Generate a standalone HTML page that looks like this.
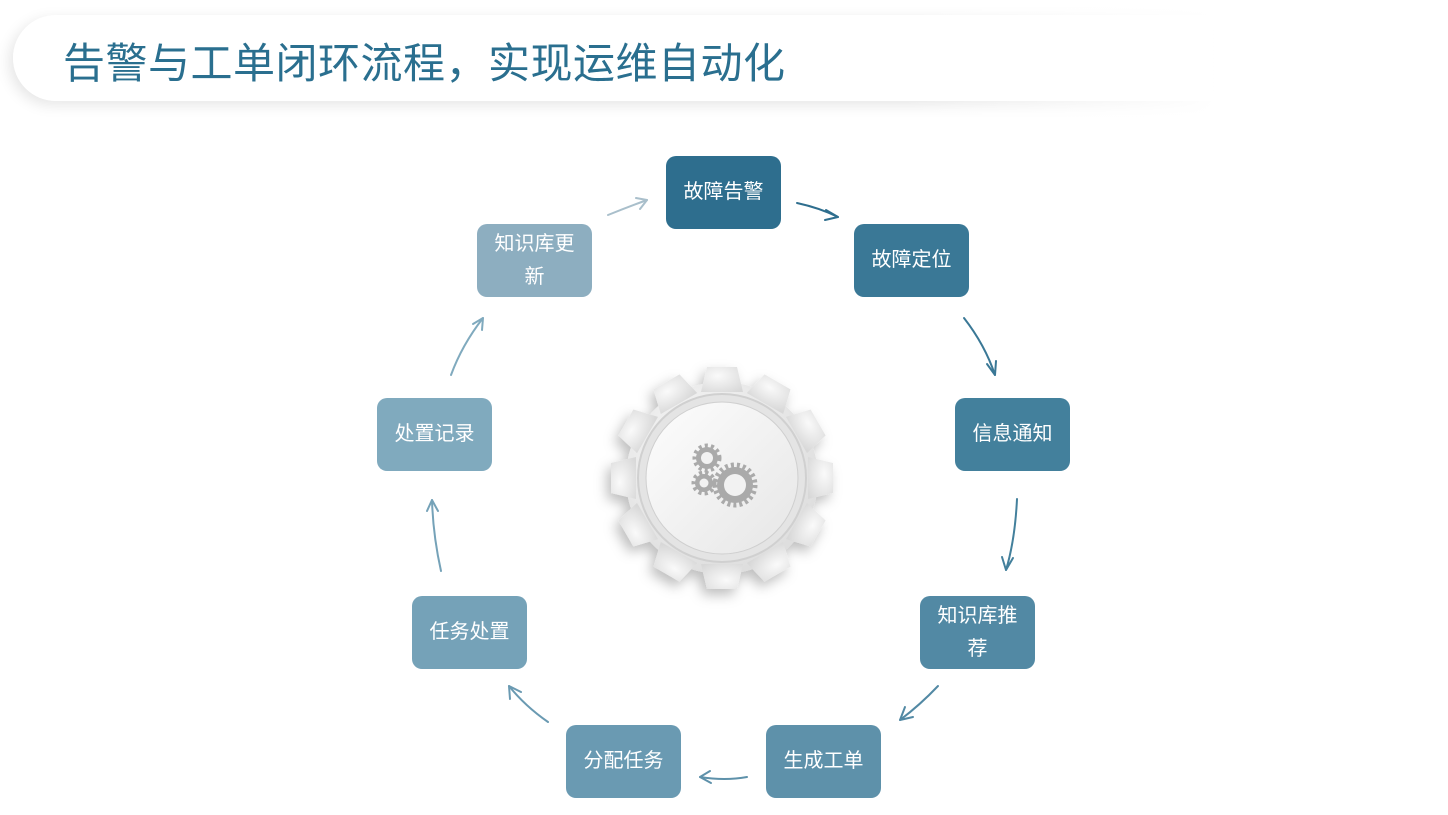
<!DOCTYPE html>
<html><head><meta charset="utf-8"><style>
html,body{margin:0;padding:0;}
body{width:1448px;height:815px;background:#fff;position:relative;overflow:hidden;font-family:"Liberation Sans","Noto Sans CJK SC",sans-serif;}
.bar{position:absolute;left:13px;top:15px;width:1200px;height:86px;border-radius:43px 0 0 43px;background:linear-gradient(90deg,#fff 0%,#fff 60%,rgba(255,255,255,0) 100%);box-shadow:-4px 4px 14px rgba(0,0,0,0.10);}
.fade{position:absolute;left:900px;top:0;width:548px;height:120px;background:linear-gradient(90deg,rgba(255,255,255,0),#fff 60%);}
.title{position:absolute;left:63px;top:30px;font-size:42px;color:#2a6f8f;letter-spacing:0.5px;white-space:nowrap;}
.b{position:absolute;width:115px;height:73px;border-radius:10px;color:#fff;font-size:20px;display:flex;align-items:center;justify-content:center;text-align:center;line-height:33px;}
</style></head><body>
<div class="bar"></div><div class="fade"></div>
<div class="title">告警与工单闭环流程，实现运维自动化</div>

<svg width="1448" height="815" style="position:absolute;left:0;top:0">
<defs>
<radialGradient id="g1" cx="0.4" cy="0.35" r="0.8"><stop offset="0" stop-color="#fafafa"/><stop offset="1" stop-color="#d8d8d8"/></radialGradient>
<linearGradient id="g2" x1="0" y1="0" x2="1" y2="1"><stop offset="0" stop-color="#fdfdfd"/><stop offset="1" stop-color="#e6e6e6"/></linearGradient>
<filter id="sh" x="-30%" y="-30%" width="160%" height="160%"><feDropShadow dx="-4" dy="6" stdDeviation="6" flood-color="#000" flood-opacity="0.25"/></filter>
<path id="tooth" d="M-21,-86 L-15,-111 L15,-111 L21,-86 Z"/>
</defs>
<g transform="translate(722,478)" filter="url(#sh)" fill="url(#g1)">
<circle r="96"/>
<use href="#tooth"/><use href="#tooth" transform="rotate(30)"/><use href="#tooth" transform="rotate(60)"/><use href="#tooth" transform="rotate(90)"/><use href="#tooth" transform="rotate(120)"/><use href="#tooth" transform="rotate(150)"/><use href="#tooth" transform="rotate(180)"/><use href="#tooth" transform="rotate(210)"/><use href="#tooth" transform="rotate(240)"/><use href="#tooth" transform="rotate(270)"/><use href="#tooth" transform="rotate(300)"/><use href="#tooth" transform="rotate(330)"/>
</g>
<g transform="translate(722,478)">
<circle r="84" fill="#e4e4e4" stroke="#d0d0d0" stroke-width="2"/>
<circle r="76" fill="url(#g2)" stroke="#cfcfcf" stroke-width="1"/>
</g>
<g fill="#aaaaaa">
<circle cx="707" cy="458" r="11"/><circle cx="735" cy="485" r="18"/><circle cx="704" cy="483" r="9"/>
</g>
<g stroke="#aaaaaa" stroke-width="5" stroke-dasharray="3 3" fill="none">
<circle cx="707" cy="458" r="12"/><circle cx="735" cy="485" r="20"/><circle cx="704" cy="483" r="10"/>
</g>
<g fill="#f2f2f2"><circle cx="707" cy="458" r="6"/><circle cx="735" cy="485" r="11"/><circle cx="704" cy="483" r="4.5"/></g>

<g fill="none" stroke-width="2" stroke-linecap="round" stroke-linejoin="round">
<g stroke="#2e6e8e"><path d="M797,203 Q820,208 838,217"/><path d="M826,210 L838,217 L825,220"/></g>
<g stroke="#3a7896"><path d="M964,318 Q985,345 995,375"/><path d="M987,364 L995,375 L996,361"/></g>
<g stroke="#43809c"><path d="M1017,499 Q1015,540 1006,570"/><path d="M1002,557 L1006,570 L1013,558"/></g>
<g stroke="#5289a4"><path d="M938,686 Q920,705 900,720"/><path d="M905,707 L900,720 L913,717"/></g>
<g stroke="#5e91aa"><path d="M747,777 Q725,781 700,777"/><path d="M710,771 L700,777 L711,783"/></g>
<g stroke="#6a9ab2"><path d="M548,722 Q525,706 509,686"/><path d="M510,699 L509,686 L521,692"/></g>
<g stroke="#75a2b8"><path d="M441,571 Q433,535 432,500"/><path d="M427,511 L432,500 L438,511"/></g>
<g stroke="#80aabe"><path d="M451,375 Q462,345 483,318"/><path d="M473,324 L483,318 L482,330"/></g>
<g stroke="#a9bfcb"><path d="M608,215 Q628,207 647,200"/><path d="M636,198 L647,200 L640,209"/></g>
</g>
</svg>

<div class="b" style="left:666px;top:156px;background:#2e6e8e">故障告警</div>
<div class="b" style="left:854px;top:224px;background:#3a7896">故障定位</div>
<div class="b" style="left:955px;top:398px;background:#43809c">信息通知</div>
<div class="b" style="left:920px;top:596px;background:#5289a4">知识库推<br>荐</div>
<div class="b" style="left:766px;top:725px;background:#5e91aa">生成工单</div>
<div class="b" style="left:566px;top:725px;background:#6a9ab2">分配任务</div>
<div class="b" style="left:412px;top:596px;background:#75a2b8">任务处置</div>
<div class="b" style="left:377px;top:398px;background:#80aabe">处置记录</div>
<div class="b" style="left:477px;top:224px;background:#8daec0">知识库更<br>新</div>
</body></html>
